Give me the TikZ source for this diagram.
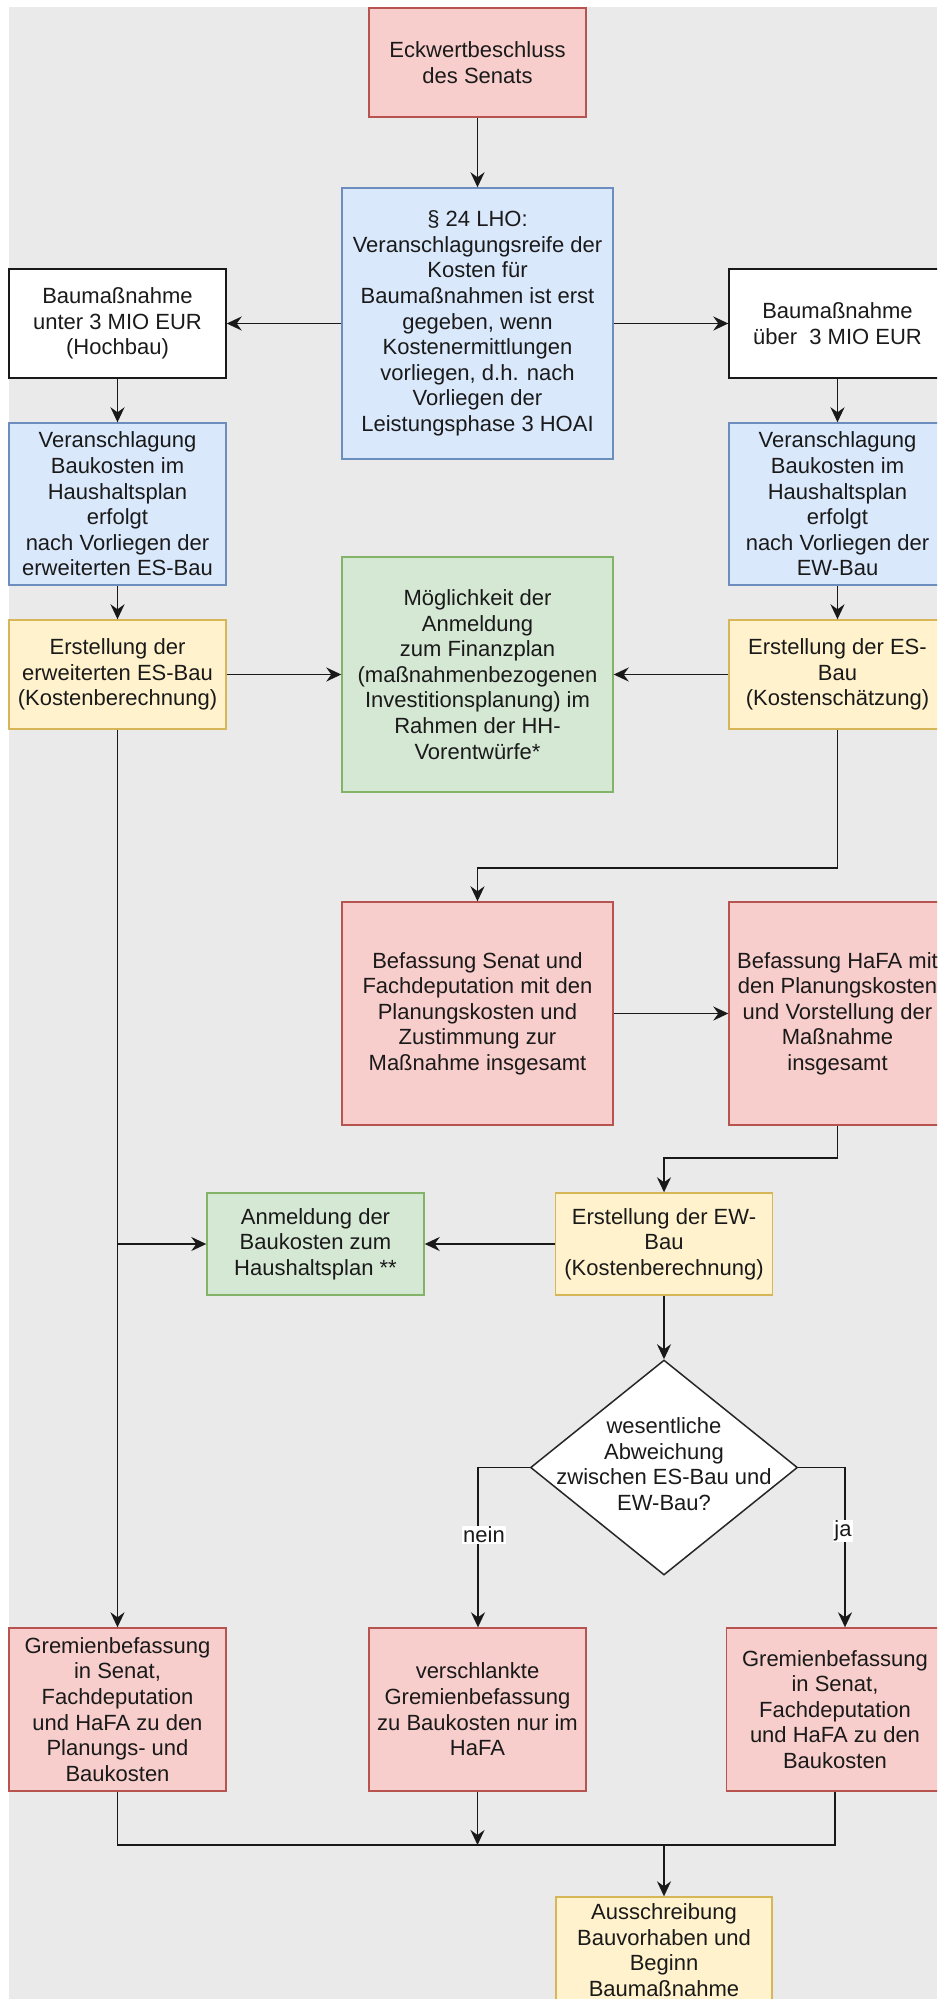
\documentclass[tikz,border=0pt]{standalone}
\usepackage{fontspec}
\setmainfont{Liberation Sans}
\usetikzlibrary{arrows.meta,shapes.geometric}
\definecolor{bg}{HTML}{EAEAEA}
\definecolor{redF}{HTML}{F8CECC}\definecolor{redD}{HTML}{B85450}
\definecolor{bluF}{HTML}{DAE8FC}\definecolor{bluD}{HTML}{6C8EBF}
\definecolor{grnF}{HTML}{D5E8D4}\definecolor{grnD}{HTML}{82B366}
\definecolor{yelF}{HTML}{FFF2CC}\definecolor{yelD}{HTML}{D6B656}
\definecolor{txt}{HTML}{1A1A1A}
\tikzset{
  box/.style={draw, line width=1.4pt, rectangle, align=center, inner sep=0pt,
    text=txt, font=\fontsize{22}{25.6}\selectfont},
  redbox/.style={box, fill=redF, draw=redD},
  bluebox/.style={box, fill=bluF, draw=bluD},
  greenbox/.style={box, fill=grnF, draw=grnD},
  yellowbox/.style={box, fill=yelF, draw=yelD},
  whitebox/.style={box, fill=white, draw=black!90},
  conn/.style={line width=1.9pt, draw=black!90, -{Stealth[length=15pt,width=14pt,inset=5pt]}},
  plain/.style={line width=1.9pt, draw=black!90},
  lbl/.style={fill=white, inner sep=1pt, text=txt, font=\fontsize{22}{25.6}\selectfont},
}
\begin{document}
\begin{tikzpicture}[x=1pt,y=-1pt]
\useasboundingbox (0,0) rectangle (937,1999);
\clip (0,0) rectangle (937,1999);
\fill[bg] (9,7) rectangle (937,1999);

\node[redbox, minimum width=217, minimum height=109] (eck) at (477.5,62.5) {Eckwertbeschluss\\des Senats};
\node[bluebox, minimum width=271, minimum height=271] (lho) at (477.5,323.5) {§ 24 LHO:\\Veranschlagungsreife der\\Kosten für\\Baumaßnahmen ist erst\\gegeben, wenn\\Kostenermittlungen\\vorliegen, d.h. nach\\Vorliegen der\\Leistungsphase 3 HOAI};
\node[whitebox, minimum width=217, minimum height=109] (unter) at (117.5,323.5) {Baumaßnahme\\unter 3 MIO EUR\\(Hochbau)};
\node[whitebox, minimum width=217, minimum height=109] (ueber) at (837.5,323.5) {Baumaßnahme\\über\ \ 3 MIO EUR};
\node[bluebox, minimum width=217, minimum height=162] (veranL) at (117.5,504) {Veranschlagung\\Baukosten im\\Haushaltsplan\\erfolgt\\nach Vorliegen der\\erweiterten ES-Bau};
\node[bluebox, minimum width=217, minimum height=162] (veranR) at (837.5,504) {Veranschlagung\\Baukosten im\\Haushaltsplan\\erfolgt\\nach Vorliegen der\\EW-Bau};
\node[greenbox, minimum width=271, minimum height=235] (moegl) at (477.5,674.5) {Möglichkeit der\\Anmeldung\\zum Finanzplan\\(maßnahmenbezogenen\\Investitionsplanung) im\\Rahmen der HH-\\Vorentwürfe*};
\node[yellowbox, minimum width=217, minimum height=109] (erstL) at (117.5,674.5) {Erstellung der\\erweiterten ES-Bau\\(Kostenberechnung)};
\node[yellowbox, minimum width=217, minimum height=109] (erstR) at (837.5,674.5) {Erstellung der ES-\\Bau\\(Kostenschätzung)};
\node[redbox, minimum width=271, minimum height=223] (senat) at (477.5,1013.5) {Befassung Senat und\\Fachdeputation mit den\\Planungskosten und\\Zustimmung zur\\Maßnahme insgesamt};
\node[redbox, minimum width=217, minimum height=223] (hafa) at (837.5,1013.5) {Befassung HaFA mit\\den Planungskosten\\und Vorstellung der\\Maßnahme\\insgesamt};
\node[greenbox, minimum width=217, minimum height=102] (anm) at (315.5,1244) {Anmeldung der\\Baukosten zum\\Haushaltsplan **};
\node[yellowbox, minimum width=217, minimum height=102] (ew) at (664,1244) {Erstellung der EW-\\Bau\\(Kostenberechnung)};
\node[draw=black!85, line width=1.5pt, fill=white, diamond, inner sep=0pt, minimum width=267, minimum height=215] (dia) at (664,1467.5) {};
\node[align=center, text=txt, font=\fontsize{22}{25.6}\selectfont] (diatext) at (664,1464) {wesentliche\\Abweichung\\zwischen ES-Bau und\\EW-Bau?};
\node[redbox, minimum width=217, minimum height=163] (gremL) at (117.5,1709.5) {Gremienbefassung\\in Senat,\\Fachdeputation\\und HaFA zu den\\Planungs- und\\Baukosten};
\node[redbox, minimum width=217, minimum height=163] (versch) at (477.5,1709.5) {verschlankte\\Gremienbefassung\\zu Baukosten nur im\\HaFA};
\node[redbox, minimum width=217, minimum height=163] (gremR) at (835,1709.5) {Gremienbefassung\\in Senat,\\Fachdeputation\\und HaFA zu den\\Baukosten};
\node[yellowbox, minimum width=216, minimum height=106] (aus) at (664,1950) {Ausschreibung\\Bauvorhaben und\\Beginn\\Baumaßnahme};

\coordinate (j1) at (837.5,868);
\coordinate (j2) at (477.5,868);
\coordinate (j3) at (837.5,1158);
\coordinate (j4) at (664,1158);
\coordinate (j5) at (117.5,1244);
\coordinate (j6) at (478,1467.5);
\coordinate (j7) at (845,1467.5);
\coordinate (j8) at (117.5,1845);
\coordinate (j9) at (664,1845);
\coordinate (j10) at (835,1845);
\coordinate (j11) at (477.5,1845);

\draw[conn] (eck) -- (lho);
\draw[conn] (lho) -- (unter);
\draw[conn] (lho) -- (ueber);
\draw[conn] (unter) -- (veranL);
\draw[conn] (ueber) -- (veranR);
\draw[conn] (veranL) -- (erstL);
\draw[conn] (veranR) -- (erstR);
\draw[conn] (erstL) -- (moegl);
\draw[conn] (erstR) -- (moegl);
\draw[conn] (erstR.south) -- (j1) -- (j2) -- (senat.north);
\draw[conn] (senat.east |- hafa.west) -- (hafa.west);
\draw[conn] (hafa.south) -- (j3) -- (j4) -- (ew.north);
\draw[conn] (ew.west) -- (anm.east);
\draw[conn] (erstL.south) -- (j5) -- (anm.west);
\draw[conn] (erstL.south) -- (gremL.north);
\draw[conn] (ew.south) -- (dia.north);
\draw[conn] (dia.west) -- (j6) -- (j6 |- versch.north);
\draw[conn] (dia.east) -- (j7) -- (j7 |- gremR.north);
\node[lbl] (nein) at (484,1535) {nein};
\node[lbl] (ja) at (843,1531) {ja};
\draw[plain] (gremL.south) -- (j8) -- (j9);
\draw[plain] (gremR.south) -- (j10) -- (j9);
\draw[conn] (j9) -- (aus.north);
\draw[conn] (versch.south) -- (j11);
\end{tikzpicture}
\end{document}
